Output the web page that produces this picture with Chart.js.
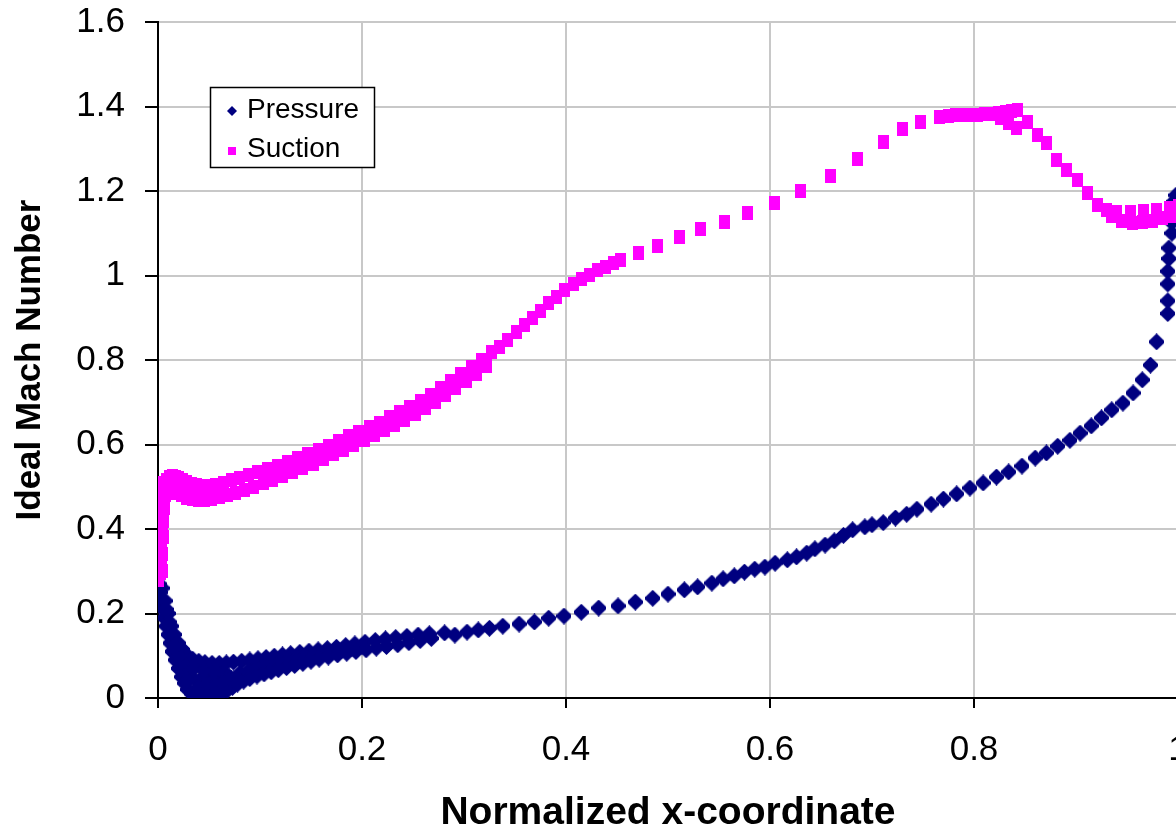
<!DOCTYPE html>
<html>
<head>
<meta charset="utf-8">
<script src="https://cdn.jsdelivr.net/npm/chart.js@4"></script>
<style>
  html, body { margin: 0; padding: 0; background: #fff; overflow: hidden; }
  #wrap { position: relative; width: 1190px; height: 840px; }
</style>
</head>
<body>
<div id="wrap"><canvas id="machChart"></canvas></div>
<script>
// Ideal Mach number along the blade, [x, M] pairs
const pressurePts = [
  // leading edge, outer path down to zero
  [0.000,0.285],[0.001,0.27],[0.002,0.25],[0.003,0.23],[0.005,0.21],[0.006,0.19],[0.008,0.17],[0.010,0.15],
  [0.012,0.13],[0.014,0.11],[0.017,0.09],[0.020,0.07],[0.023,0.05],[0.026,0.035],[0.029,0.02],[0.033,0.01],
  // inner / upper row
  [0.004,0.26],[0.007,0.23],[0.010,0.20],[0.013,0.17],[0.016,0.15],[0.020,0.13],[0.024,0.115],[0.029,0.10],
  [0.034,0.092],[0.040,0.087],[0.046,0.084],[0.053,0.082],[0.060,0.082],[0.067,0.083],[0.074,0.085],[0.082,0.087],
  [0.090,0.090],[0.098,0.093],[0.106,0.096],[0.114,0.099],[0.122,0.102],[0.130,0.105],[0.139,0.108],[0.148,0.111],
  [0.157,0.114],[0.166,0.117],[0.175,0.120],[0.184,0.124],[0.193,0.128],[0.203,0.132],[0.213,0.136],[0.223,0.140],
  [0.233,0.143],[0.244,0.146],[0.255,0.149],[0.266,0.152],
  // bottom of the dip and the filled core
  [0.038,0.01],[0.043,0.01],[0.048,0.01],[0.053,0.01],[0.058,0.01],[0.063,0.012],[0.068,0.018],[0.073,0.025],
  [0.025,0.08],[0.030,0.06],[0.035,0.045],[0.040,0.04],[0.045,0.05],[0.050,0.045],[0.055,0.04],[0.060,0.05],
  [0.035,0.07],[0.045,0.065],[0.055,0.065],[0.065,0.06],[0.070,0.05],[0.028,0.04],
  [0.040,0.025],[0.048,0.03],[0.056,0.028],[0.064,0.035],[0.072,0.045],[0.080,0.058],[0.088,0.064],
  [0.096,0.072],[0.104,0.076],[0.112,0.080],[0.120,0.085],[0.128,0.089],[0.136,0.093],[0.144,0.097],
  [0.152,0.100],[0.160,0.104],[0.170,0.108],[0.180,0.113],[0.190,0.118],[0.200,0.123],
  [0.020,0.10],[0.016,0.12],[0.008,0.21],[0.011,0.18],
  // lower row
  [0.078,0.033],[0.084,0.040],[0.090,0.046],[0.097,0.052],[0.104,0.057],[0.111,0.062],[0.118,0.067],[0.126,0.072],
  [0.134,0.077],[0.142,0.082],[0.150,0.087],[0.158,0.092],[0.167,0.097],[0.176,0.102],[0.185,0.106],[0.194,0.110],
  [0.204,0.114],[0.214,0.118],[0.224,0.122],[0.235,0.126],[0.246,0.131],[0.257,0.136],[0.268,0.141],
  // single row
  [0.281,0.154],[0.291,0.149],[0.303,0.156],[0.314,0.161],[0.325,0.165],[0.338,0.170],[0.354,0.175],[0.369,0.180],
  [0.383,0.189],[0.398,0.194],[0.415,0.203],[0.432,0.213],[0.451,0.218],[0.468,0.227],[0.485,0.236],[0.500,0.246],
  [0.516,0.256],[0.529,0.263],[0.543,0.272],[0.554,0.282],[0.565,0.289],[0.575,0.298],[0.585,0.305],[0.595,0.310],
  [0.605,0.319],[0.617,0.327],[0.626,0.334],[0.636,0.343],[0.644,0.353],[0.654,0.362],[0.663,0.372],[0.672,0.385],
  [0.681,0.398],[0.693,0.405],[0.700,0.410],[0.711,0.415],[0.723,0.426],[0.734,0.435],[0.744,0.447],[0.758,0.459],
  [0.770,0.471],[0.783,0.483],[0.796,0.497],[0.809,0.509],[0.822,0.523],[0.834,0.535],[0.847,0.549],[0.860,0.568],
  [0.871,0.580],[0.882,0.596],[0.894,0.610],[0.904,0.627],[0.915,0.644],[0.925,0.663],[0.935,0.682],[0.946,0.698],
  [0.956,0.722],[0.965,0.753],[0.973,0.788],[0.979,0.843],
  // trailing edge
  [0.990,0.91],[0.990,0.94],[0.990,0.98],[0.990,1.01],[0.991,1.04],[0.991,1.065],[0.994,1.10],[0.994,1.125],
  [0.995,1.155],[0.996,1.175],[0.998,1.19]
];

const suctionPts = [
  // leading edge column
  [0.000,0.28],[0.000,0.31],[0.000,0.34],[0.001,0.37],[0.001,0.40],[0.001,0.43],[0.002,0.46],[0.002,0.49],[0.003,0.51],
  [0.004,0.30],[0.004,0.34],[0.005,0.38],[0.005,0.42],[0.006,0.45],[0.007,0.48],
  [0.002,0.295],[0.003,0.325],[0.003,0.355],[0.003,0.385],[0.004,0.415],[0.004,0.445],[0.005,0.475],
  // bump
  [0.008,0.515],[0.011,0.522],[0.014,0.525],[0.017,0.524],[0.020,0.521],[0.024,0.516],[0.028,0.511],[0.033,0.506],
  [0.038,0.503],[0.044,0.501],[0.050,0.502],
  [0.010,0.490],[0.014,0.490],[0.018,0.486],[0.023,0.480],[0.028,0.474],[0.034,0.470],[0.040,0.468],[0.046,0.468],[0.052,0.470],
  [0.012,0.505],[0.020,0.502],[0.030,0.490],[0.042,0.485],
  // upper row
  [0.056,0.505],[0.064,0.510],[0.072,0.515],[0.080,0.520],[0.089,0.527],[0.098,0.535],[0.107,0.542],[0.117,0.550],
  [0.127,0.558],[0.137,0.567],[0.147,0.577],[0.157,0.587],[0.167,0.597],[0.177,0.608],[0.187,0.619],[0.197,0.630],
  [0.207,0.641],[0.217,0.652],[0.227,0.664],[0.237,0.676],[0.247,0.689],[0.257,0.703],[0.267,0.718],[0.277,0.734],
  [0.287,0.750],[0.297,0.767],[0.307,0.783],[0.317,0.800],[0.327,0.818],
  // lower row
  [0.060,0.475],[0.068,0.480],[0.076,0.486],[0.085,0.493],[0.094,0.500],[0.103,0.508],[0.112,0.516],[0.122,0.525],
  [0.132,0.535],[0.142,0.545],[0.152,0.555],[0.162,0.566],[0.172,0.577],[0.182,0.588],[0.192,0.599],[0.202,0.610],
  [0.212,0.622],[0.222,0.634],[0.232,0.646],[0.242,0.659],[0.252,0.672],[0.262,0.686],[0.272,0.701],[0.282,0.717],
  [0.292,0.734],[0.302,0.751],[0.312,0.768],[0.322,0.785],
  // steep rise
  [0.335,0.830],[0.343,0.848],[0.351,0.866],[0.359,0.884],[0.367,0.900],[0.375,0.917],[0.383,0.934],[0.391,0.950],
  [0.399,0.965],[0.407,0.979],[0.415,0.991],[0.423,1.002],[0.431,1.012],[0.439,1.021],[0.447,1.029],[0.453,1.036],
  // sparse part
  [0.471,1.053],[0.490,1.070],[0.511,1.091],[0.532,1.110],[0.555,1.127],[0.578,1.148],[0.604,1.172],[0.630,1.200],
  [0.659,1.235],[0.686,1.276],[0.711,1.316],[0.730,1.347],[0.748,1.363],[0.766,1.375],
  // plateau
  [0.775,1.378],[0.782,1.380],[0.789,1.380],[0.796,1.381],[0.803,1.381],[0.810,1.382],[0.817,1.382],[0.824,1.384],
  [0.831,1.387],[0.837,1.390],[0.843,1.391],[0.826,1.372],[0.834,1.360],[0.842,1.348],
  // descent to trailing edge
  [0.852,1.363],[0.862,1.333],[0.871,1.313],[0.881,1.273],[0.891,1.250],[0.901,1.226],[0.911,1.195],[0.921,1.167],
  [0.930,1.155],[0.940,1.150],[0.953,1.150],[0.966,1.152],[0.979,1.155],[0.992,1.160],[1.000,1.165],
  [0.935,1.140],[0.945,1.128],[0.955,1.125],[0.965,1.127],[0.975,1.130],[0.985,1.135],[0.995,1.140]
];

const seriesNames = ['Pressure', 'Suction'];
const seriesColors = ['#000080', '#ff00ff'];
const FONT = "'Liberation Sans', Arial, sans-serif";

function marker(w, h, color, shape) {
  const c = document.createElement('canvas');
  c.width = w; c.height = h;
  const g = c.getContext('2d');
  g.fillStyle = color;
  if (shape === 'diamond') {
    g.beginPath();
    g.moveTo(w / 2, 0);
    g.lineTo(w, h * 0.42);
    g.lineTo(w, h * 0.58);
    g.lineTo(w / 2, h);
    g.lineTo(0, h * 0.58);
    g.lineTo(0, h * 0.42);
    g.closePath();
    g.fill();
  } else {
    g.fillRect(0, 0, w, h);
  }
  return c;
}

const pressureMarker = marker(15, 17, seriesColors[0], 'diamond');
const suctionMarker = marker(11, 14, seriesColors[1], 'square');

// legend box sitting inside the plot, like the original
const boxLegend = {
  id: 'boxLegend',
  afterDraw(chart) {
    const ctx = chart.ctx;
    ctx.save();
    ctx.fillStyle = '#fff';
    ctx.fillRect(210, 87, 165, 81);
    ctx.strokeStyle = '#000';
    ctx.lineWidth = 1.5;
    ctx.strokeRect(210.5, 87.5, 164, 80);
    const rows = [118, 157];
    ctx.font = '28px ' + FONT;
    ctx.textBaseline = 'alphabetic';
    chart.data.datasets.forEach((ds, i) => {
      const cy = rows[i] - 7;
      ctx.fillStyle = seriesColors[i];
      if (i === 0) {
        ctx.beginPath();
        ctx.moveTo(232, cy - 5); ctx.lineTo(237, cy); ctx.lineTo(232, cy + 5); ctx.lineTo(227, cy);
        ctx.closePath(); ctx.fill();
      } else {
        ctx.fillRect(228, cy - 3, 8, 8);
      }
      ctx.fillStyle = '#000';
      ctx.fillText(ds.label, 247, rows[i]);
    });
    ctx.restore();
  }
};

const fmtTick = v => String(Math.round(v * 10) / 10);

const ctx = document.getElementById('machChart').getContext('2d');
new Chart(ctx, {
  type: 'scatter',
  data: {
    datasets: [
      {
        label: seriesNames[0],
        data: pressurePts.map(p => ({ x: p[0], y: p[1] })),
        pointStyle: pressureMarker,
        backgroundColor: seriesColors[0],
        borderColor: seriesColors[0],
        order: 2
      },
      {
        label: seriesNames[1],
        data: suctionPts.map(p => ({ x: p[0], y: p[1] })),
        pointStyle: suctionMarker,
        backgroundColor: seriesColors[1],
        borderColor: seriesColors[1],
        order: 1
      }
    ]
  },
  options: {
    responsive: true,
    maintainAspectRatio: false,
    animation: false,
    events: [],
    layout: { padding: { top: 22, right: 12, left: 0, bottom: 0 } },
    plugins: {
      legend: { display: false },
      tooltip: { enabled: false }
    },
    scales: {
      x: {
        type: 'linear',
        min: 0,
        max: 1,
        ticks: { stepSize: 0.2, color: '#000', padding: 21, callback: fmtTick, font: { family: FONT, size: 35 } },
        grid: { color: '#c8c8c8', lineWidth: 2, tickColor: '#000', tickLength: 10, tickWidth: 2 },
        border: { color: '#000', width: 2 },
        title: {
          display: true,
          text: 'Normalized x-coordinate',
          color: '#000',
          font: { family: FONT, size: 39, weight: 'bold' },
          padding: { top: 0, bottom: 3 }
        },
        afterFit: s => { s.height = 142; s.paddingLeft = 0; s.paddingRight = 0; }
      },
      y: {
        min: 0,
        max: 1.6,
        ticks: { stepSize: 0.2, color: '#000', padding: 20, callback: fmtTick, font: { family: FONT, size: 35 } },
        grid: { color: '#c8c8c8', lineWidth: 2, tickColor: '#000', tickLength: 13, tickWidth: 2 },
        border: { color: '#000', width: 2 },
        title: {
          display: true,
          text: 'Ideal Mach Number',
          color: '#000',
          font: { family: FONT, size: 35, weight: 'bold' },
          padding: { top: 9, bottom: 0 }
        },
        afterFit: s => { s.width = 158; s.paddingTop = 0; s.paddingBottom = 0; }
      }
    }
  },
  plugins: [boxLegend]
});
</script>
</body>
</html>
